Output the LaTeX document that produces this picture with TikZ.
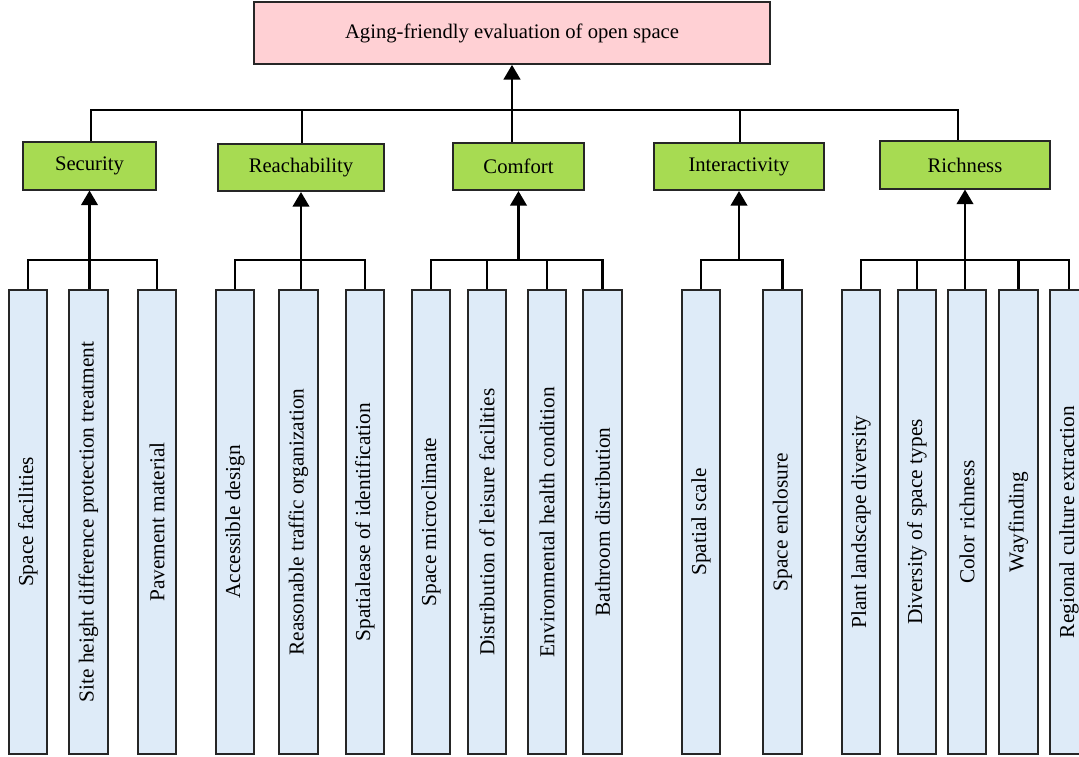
\documentclass[tikz,border=0pt]{standalone}
\usepackage{fontspec}
\setmainfont{Liberation Serif}
\usetikzlibrary{arrows.meta,calc}
\definecolor{rootfill}{RGB}{255,208,212}
\definecolor{catfill}{RGB}{167,219,82}
\definecolor{leaffill}{RGB}{222,235,248}
\begin{document}
\begin{tikzpicture}[x=0.75pt,y=-0.75pt,
  box/.style={draw=black!85, line width=1.3pt, inner sep=0pt,
    font=\fontsize{15.5}{18}\selectfont},
  rootbox/.style={box, fill=rootfill, minimum width=387pt, minimum height=46.5pt},
  catbox/.style={box, fill=catfill, minimum height=35.5pt},
  leafbox/.style={box, fill=leaffill, minimum width=29pt, minimum height=348pt,
    font=\fontsize{16}{19}\selectfont},
  link/.style={line width=1.6pt},
  up/.style={link, -{Triangle[width=12.5pt,length=11pt]}}]
\useasboundingbox (0,0) rectangle (1079,757);

% goal
\node[rootbox] (root) at (512,33) {Aging-friendly evaluation of open space};

% criteria
\node[catbox, minimum width=99.75pt] (sec) at (89.5,166) {Security};
\node[catbox, minimum width=124.5pt] (rea) at (301,167.5) {Reachability};
\node[catbox, minimum width=98.25pt] (com) at (518.5,166.5) {Comfort};
\node[catbox, minimum width=127.5pt] (int) at (739,166.5) {Interactivity};
\node[catbox, minimum width=127.5pt] (ric) at (965,165) {Richness};

% indicators
\node[leafbox] (l1)  at (28,522)    {\rotatebox{90}{Space facilities}};
\node[leafbox] (l2)  at (88.5,522)  {\rotatebox{90}{Site height difference protection treatment}};
\node[leafbox] (l3)  at (157,522)   {\rotatebox{90}{Pavement material}};
\node[leafbox] (l4)  at (235,522)   {\rotatebox{90}{Accessible design}};
\node[leafbox] (l5)  at (298.5,522) {\rotatebox{90}{Reasonable traffic organization}};
\node[leafbox] (l6)  at (365,522)   {\rotatebox{90}{Spatialease of identification}};
\node[leafbox] (l7)  at (431,522)   {\rotatebox{90}{Space microclimate}};
\node[leafbox] (l8)  at (487,522)   {\rotatebox{90}{Distribution of leisure facilities}};
\node[leafbox] (l9)  at (547,522)   {\rotatebox{90}{Environmental health condition}};
\node[leafbox] (l10) at (602.5,522) {\rotatebox{90}{Bathroom distribution}};
\node[leafbox] (l11) at (701,522)   {\rotatebox{90}{Spatial scale}};
\node[leafbox] (l12) at (782.5,522) {\rotatebox{90}{Space enclosure}};
\node[leafbox] (l13) at (861,522)   {\rotatebox{90}{Plant landscape diversity}};
\node[leafbox] (l14) at (917,522)   {\rotatebox{90}{Diversity of space types}};
\node[leafbox] (l15) at (967,522)   {\rotatebox{90}{Color richness}};
\node[leafbox] (l16) at (1018.5,522){\rotatebox{90}{Wayfinding}};
\node[leafbox] (l17) at (1069,522)  {\rotatebox{90}{Regional culture extraction}};

% junction levels
\coordinate (topbar) at (512,110);
\coordinate (leafbar) at (0,260);

% criteria -> goal
\coordinate (secT) at ($(sec.north)+(1.5,0)$);
\coordinate (reaT) at ($(rea.north)+(1,0)$);
\coordinate (comT) at ($(com.north)+(-6.5,0)$);
\coordinate (intT) at ($(int.north)+(1,0)$);
\coordinate (ricT) at ($(ric.north)+(-7,0)$);
\draw[link] (secT) |- (topbar) -| (ricT);
\draw[link] (reaT) -- (reaT |- topbar);
\draw[link] (comT) -- (comT |- topbar);
\draw[link] (intT) -- (intT |- topbar);
\draw[up] (topbar) -- (root.south);

% indicators -> criteria
\coordinate (secB) at (sec.south |- leafbar);
\coordinate (reaB) at (rea.south |- leafbar);
\coordinate (comB) at (com.south |- leafbar);
\coordinate (intB) at (int.south |- leafbar);
\coordinate (ricB) at (ric.south |- leafbar);

\draw[link] (l1.north) |- (secB) -| (l3.north);
\draw[up] (sec.south |- l2.north) -- (sec.south);

\draw[link] (l4.north) |- (reaB) -| (l6.north);
\draw[up] (rea.south |- l5.north) -- (rea.south);

\draw[link] (l7.north) |- (comB) -| (l10.north);
\draw[link] (l8.north) -- (l8.north |- leafbar);
\draw[link] (l9.north) -- (l9.north |- leafbar);
\draw[up] (comB) -- (com.south);

\draw[link] (l11.north) |- (intB) -| (l12.north);
\draw[up] (intB) -- (int.south);

\draw[link] (l13.north) |- (ricB) -| (l17.north);
\draw[link] (l14.north) -- (l14.north |- leafbar);
\draw[link] (l16.north) -- (l16.north |- leafbar);
\draw[up] (ric.south |- l15.north) -- (ric.south);
\end{tikzpicture}
\end{document}
